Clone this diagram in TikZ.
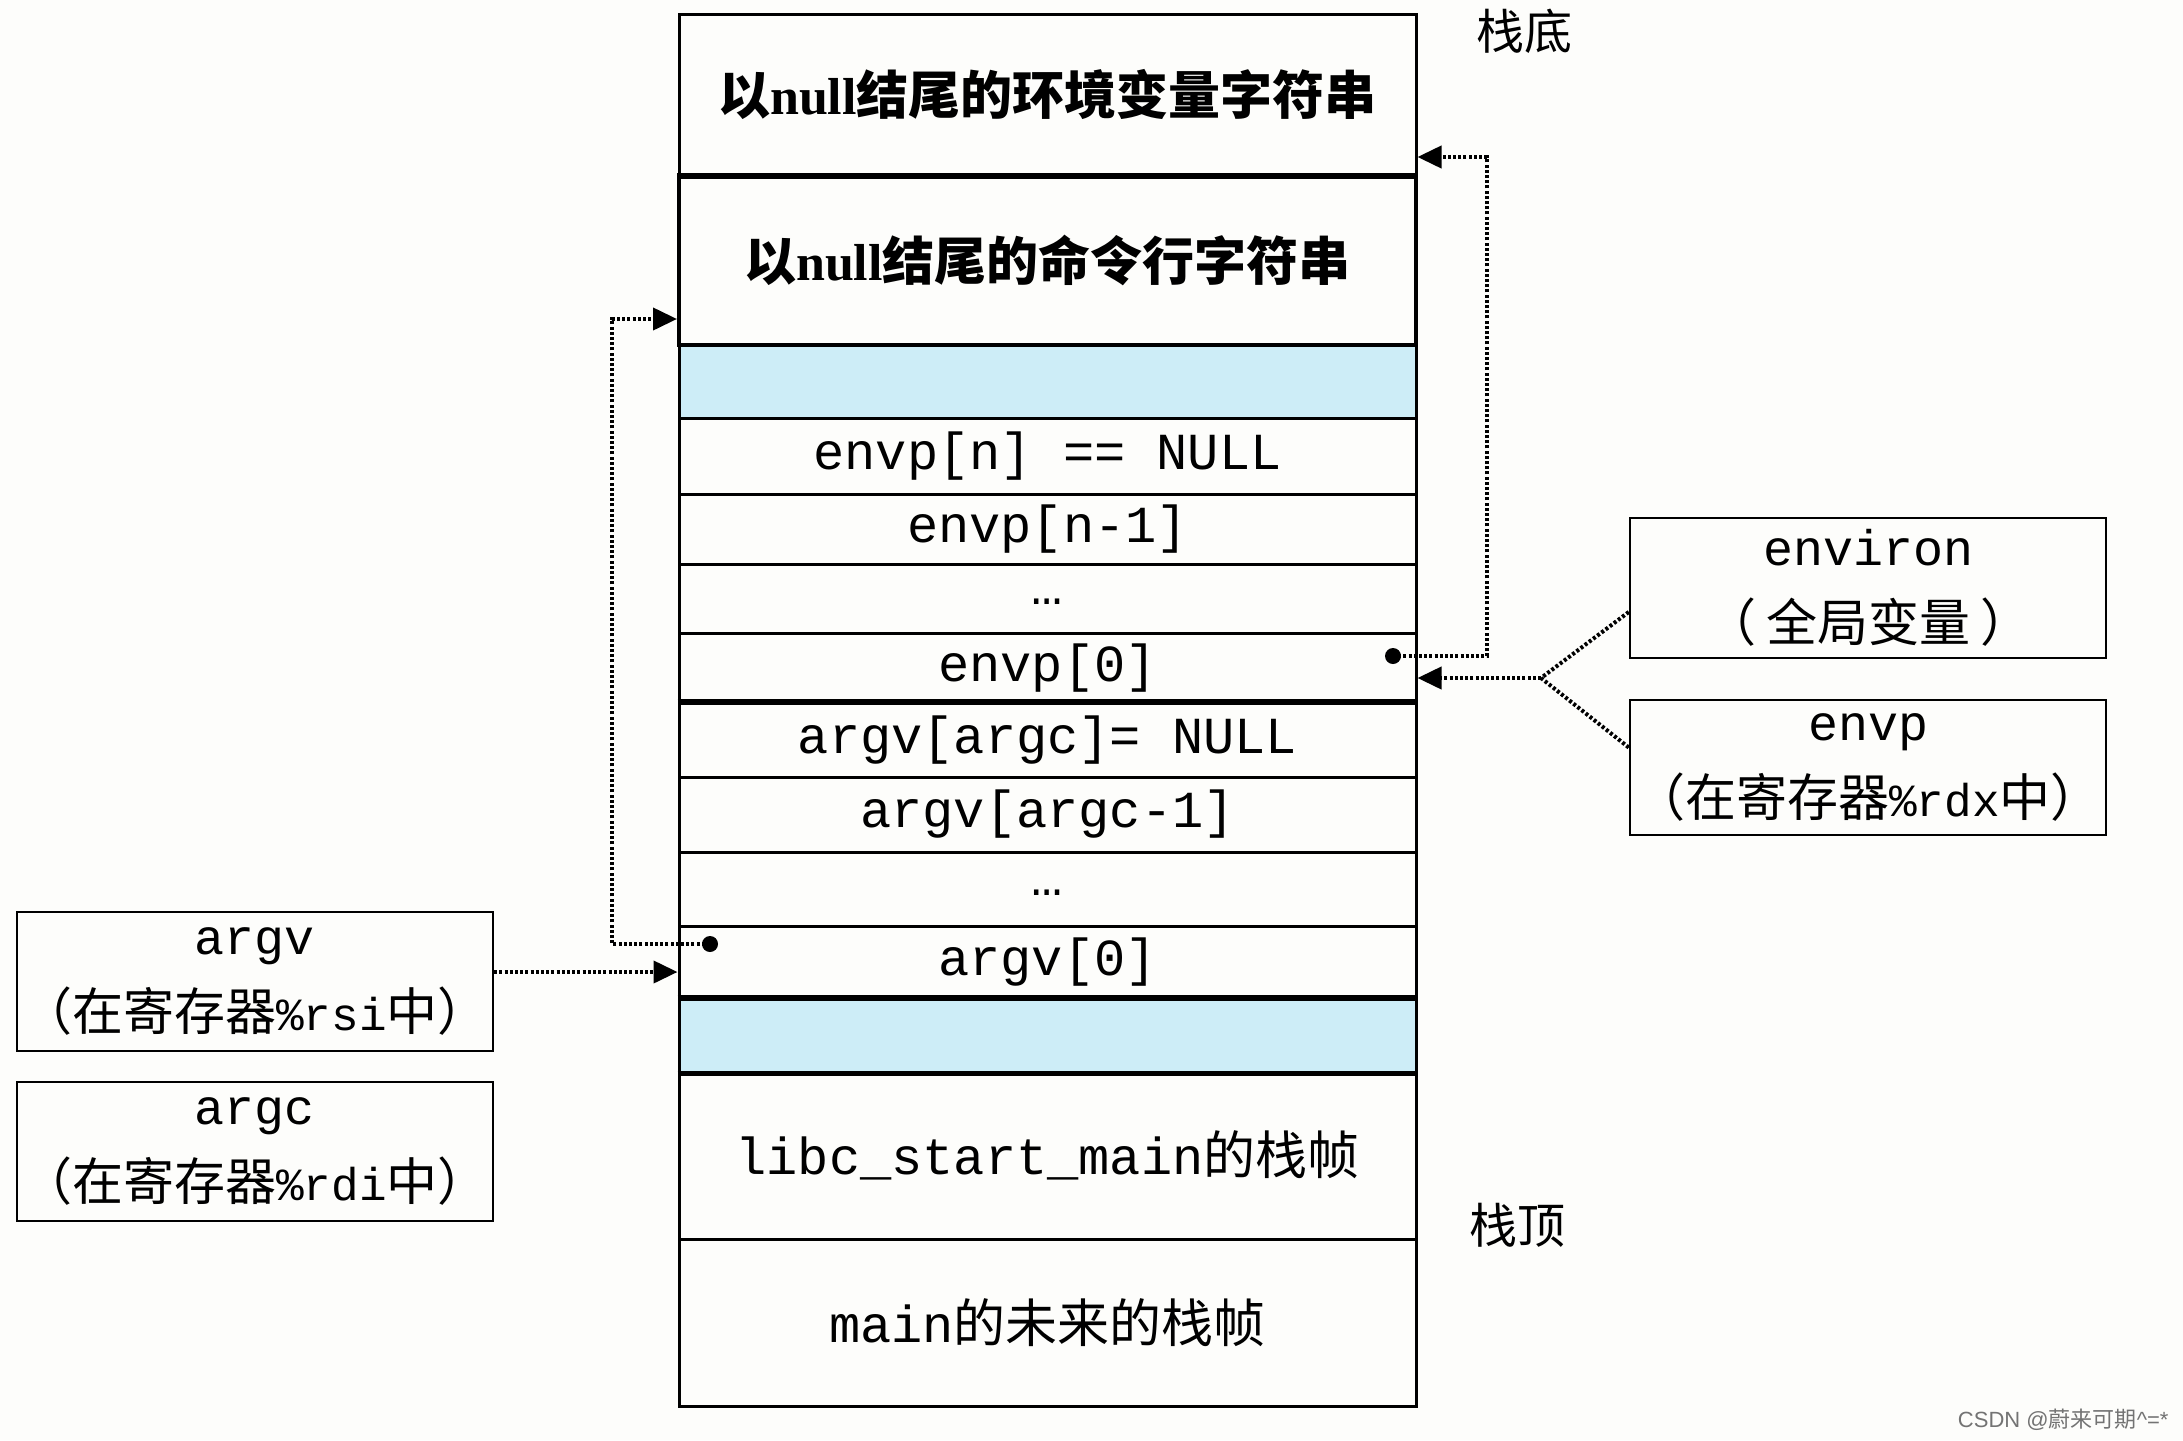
\documentclass[tikz,border=0pt]{standalone}
\usepackage{fontspec}
\setmainfont{Liberation Serif}
\newfontfamily\cjk{Noto Sans CJK SC}
\newfontfamily\mono{Liberation Mono}
\newfontfamily\wmfont{Liberation Sans}
\usetikzlibrary{arrows.meta,calc}
\definecolor{gapblue}{RGB}{205,237,247}
\definecolor{bgc}{RGB}{253,253,251}
\newcommand{\cj}[1]{{\cjk\fontsize{51}{76}\selectfont #1}}
\newcommand{\mn}[1]{{\mono\fontsize{46}{76}\selectfont #1}}
\begin{document}
\begin{tikzpicture}[x=1pt,y=-1pt,
  cell/.style={draw=black, line width=3pt, rectangle, minimum width=737pt, inner sep=0pt,
    font=\mono\fontsize{52}{60}\selectfont},
  gapcell/.style={cell, fill=gapblue},
  sidebox/.style={draw=black, line width=2.5pt, rectangle, minimum width=476pt, minimum height=138pt,
    inner sep=0pt, align=center, font=\mono\fontsize{50}{76}\selectfont},
  titlefont/.style={font=\cjk\bfseries\fontsize{52}{60}\selectfont},
  conn/.style={line width=4pt, dash pattern=on 3pt off 2.2pt},
  tip/.style={-{Triangle[length=24pt,width=22pt]}},
  thickline/.style={line width=4.5pt},
  stacklabel/.style={font=\cjk\fontsize{48}{48}\selectfont}
]
\fill[bgc] (0,0) rectangle (2183,1440);
\useasboundingbox (0,0) rectangle (2183,1440);

% stack
\node[cell, minimum height=161pt, titlefont] (envstr) at (1047.5,94.5) {以{\rmfamily\bfseries null}结尾的环境变量字符串};
\node[cell, minimum height=170pt, titlefont, line width=4pt] (cmdstr) at (1047.5,260) {以{\rmfamily\bfseries null}结尾的命令行字符串};
\node[gapcell, minimum height=73pt] (gap1) at (1047.5,381.5) {};
\node[cell, minimum height=76pt] (envpn) at (1047.5,456) {envp[n] == NULL};
\node[cell, minimum height=70pt] (envpn1) at (1047.5,529) {envp[n-1]};
\node[cell, minimum height=69pt] (envdots) at (1047.5,598.5) {\raisebox{-12pt}{…}};
\node[cell, minimum height=70pt] (envp0) at (1047.5,668) {envp[0]};
\node[cell, minimum height=74pt] (argvnull) at (1047.5,740) {argv[argc]= NULL};
\node[cell, minimum height=75pt] (argvm1) at (1047.5,814.5) {argv[argc-1]};
\node[cell, minimum height=74pt] (argvdots) at (1047.5,889) {\raisebox{-12pt}{…}};
\node[cell, minimum height=73pt] (argv0) at (1047.5,962.5) {argv[0]};
\node[gapcell, minimum height=73pt] (gap2) at (1047.5,1035.5) {};
\node[cell, minimum height=167pt] (libc) at (1047.5,1155.5) {libc\_start\_main{\cjk 的栈帧}};
\node[cell, minimum height=167pt] (mainf) at (1047.5,1322.5) {main{\cjk 的未来的栈帧}};

\draw[thickline] (argvnull.north west) -- (argvnull.north east);
\draw[thickline] (gap2.north west) -- (gap2.north east);
\draw[thickline] (gap2.south west) -- (gap2.south east);
\draw[thickline] (envstr.south west) -- (envstr.south east);

\node[stacklabel] (bottomlbl) at (1524,31) {栈底};
\node[stacklabel] (toplbl) at (1517,1225) {栈顶};

% side boxes
\node[sidebox, minimum height=140pt] (environ) at (1868,588) {environ\\\cj{（\hspace{10pt}全局变量\hspace{10pt}）}};
\node[sidebox, minimum height=135pt] (envpbox) at (1868,767.5) {envp\\\cj{（在寄存器}\mn{\%rdx}\cj{中）}};
\node[sidebox, minimum height=139pt] (argvbox) at (255,981.5) {argv\\\cj{（在寄存器}\mn{\%rsi}\cj{中）}};
\node[sidebox, minimum height=139pt] (argcbox) at (255,1151.5) {argc\\\cj{（在寄存器}\mn{\%rdi}\cj{中）}};

% connectors right
\coordinate (envdot) at (1393,656);
\coordinate (envcorner) at (1487,157);
\draw[conn, tip] (envdot) -| (envcorner) -- (envstr.east |- envcorner);
\fill (envdot) circle (8pt);

\coordinate (branch) at (1541,678);
\draw[conn] ($(environ.west)+(0,24)$) -- (branch);
\draw[conn] ($(envpbox.west)+(0,-20)$) -- (branch);
\draw[conn, tip] (branch) -- (envp0.east |- branch);

% connectors left
\coordinate (argdot) at (710,944);
\coordinate (argcorner) at (612,319);
\draw[conn, tip] (argdot) -| (argcorner) -- (cmdstr.west |- argcorner);
\fill (argdot) circle (8pt);

\coordinate (argvy) at (0,972);
\draw[conn, tip] (argvbox.east |- argvy) -- (argv0.west |- argvy);

% watermark
\node[anchor=east, text=black!55, font=\wmfont\fontsize{22}{22}\selectfont] (wm) at (2172,1420) {CSDN @{\cjk 蔚来可期}\textasciicircum=*};
\end{tikzpicture}
\end{document}
